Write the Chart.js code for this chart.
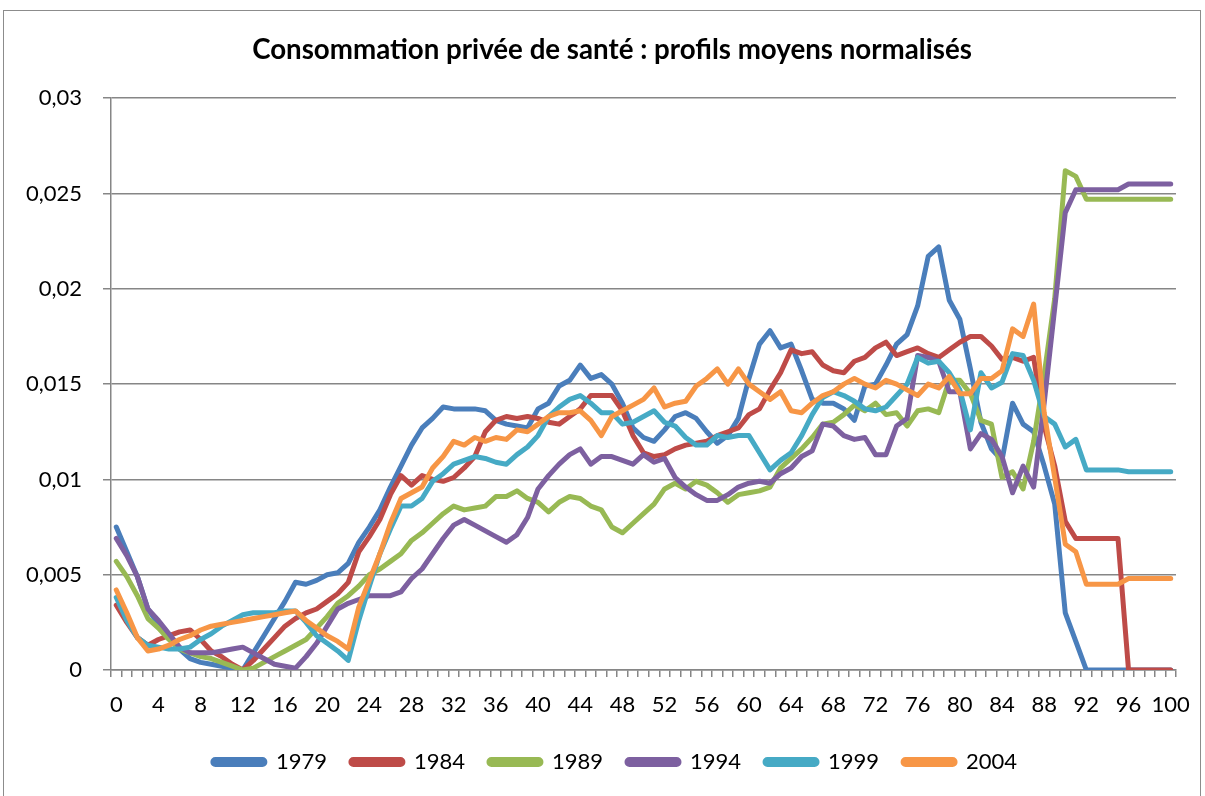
<!DOCTYPE html>
<html lang="fr">
<head>
<meta charset="utf-8">
<title>Consommation privée de santé</title>
<script src="https://cdn.jsdelivr.net/npm/chart.js@4.4.1/dist/chart.umd.min.js"></script>
<style>
  body { margin: 0; background: #fff; }
  #wrap { position: relative; width: 1205px; height: 796px; }
  #frame {
    position: absolute; left: 3px; top: 10px; width: 1196px; height: 800px;
    border: 1px solid #8c8c8c; pointer-events: none;
  }
</style>
</head>
<body>
<div id="wrap">
  <canvas id="myChart" width="1205" height="796"></canvas>
  <div id="frame"></div>
</div>
<script>
const ages = [
  0, 1, 2, 3, 4, 5, 6, 7, 8, 9, 10, 11, 12, 13, 14, 15, 16, 17, 18, 19,
  20, 21, 22, 23, 24, 25, 26, 27, 28, 29, 30, 31, 32, 33, 34, 35, 36, 37, 38, 39,
  40, 41, 42, 43, 44, 45, 46, 47, 48, 49, 50, 51, 52, 53, 54, 55, 56, 57, 58, 59,
  60, 61, 62, 63, 64, 65, 66, 67, 68, 69, 70, 71, 72, 73, 74, 75, 76, 77, 78, 79,
  80, 81, 82, 83, 84, 85, 86, 87, 88, 89, 90, 91, 92, 93, 94, 95, 96, 97, 98, 99, 100,
];

const years = ["1979", "1984", "1989", "1994", "1999", "2004"];

const values1979 = [
  0.0075, 0.0062, 0.0049, 0.0032, 0.0024, 0.0017, 0.0011, 0.0006, 0.0004, 0.0003,
  0.0002, 0.0001, 0.0000, 0.0009, 0.0018, 0.0027, 0.0036, 0.0046, 0.0045, 0.0047,
  0.0050, 0.0051, 0.0056, 0.0067, 0.0075, 0.0084, 0.0096, 0.0107, 0.0118, 0.0127,
  0.0132, 0.0138, 0.0137, 0.0137, 0.0137, 0.0136, 0.0131, 0.0129, 0.0128, 0.0127,
  0.0137, 0.0140, 0.0149, 0.0152, 0.0160, 0.0153, 0.0155, 0.0150, 0.0140, 0.0127,
  0.0122, 0.0120, 0.0126, 0.0133, 0.0135, 0.0132, 0.0125, 0.0119, 0.0123, 0.0132,
  0.0153, 0.0171, 0.0178, 0.0169, 0.0171, 0.0157, 0.0142, 0.0140, 0.0140, 0.0137,
  0.0131, 0.0149, 0.0150, 0.0160, 0.0171, 0.0176, 0.0191, 0.0217, 0.0222, 0.0194,
  0.0184, 0.0158, 0.0130, 0.0116, 0.0110, 0.0140, 0.0129, 0.0125, 0.0107, 0.0087,
  0.0030, 0.0015, 0, 0, 0, 0, 0, 0, 0, 0,
  0,
];

const values1984 = [
  0.0034, 0.0025, 0.0017, 0.0013, 0.0016, 0.0018, 0.0020, 0.0021, 0.0016, 0.0010,
  0.0007, 0.0003, 0.0000, 0.0005, 0.0011, 0.0017, 0.0023, 0.0027, 0.0030, 0.0032,
  0.0036, 0.0040, 0.0046, 0.0062, 0.0070, 0.0079, 0.0092, 0.0102, 0.0097, 0.0102,
  0.0100, 0.0099, 0.0101, 0.0106, 0.0112, 0.0125, 0.0131, 0.0133, 0.0132, 0.0133,
  0.0132, 0.0130, 0.0129, 0.0133, 0.0137, 0.0144, 0.0144, 0.0144, 0.0136, 0.0123,
  0.0114, 0.0112, 0.0113, 0.0116, 0.0118, 0.0119, 0.0120, 0.0123, 0.0125, 0.0127,
  0.0134, 0.0137, 0.0147, 0.0156, 0.0168, 0.0166, 0.0167, 0.0160, 0.0157, 0.0156,
  0.0162, 0.0164, 0.0169, 0.0172, 0.0165, 0.0167, 0.0169, 0.0166, 0.0164, 0.0168,
  0.0172, 0.0175, 0.0175, 0.0170, 0.0163, 0.0164, 0.0162, 0.0164, 0.0128, 0.0107,
  0.0078, 0.0069, 0.0069, 0.0069, 0.0069, 0.0069, 0, 0, 0, 0,
  0,
];

const values1989 = [
  0.0057, 0.0049, 0.0039, 0.0027, 0.0022, 0.0016, 0.0011, 0.0009, 0.0007, 0.0006,
  0.0004, 0.0002, 0.0000, 0.0001, 0.0004, 0.0007, 0.0010, 0.0013, 0.0016, 0.0022,
  0.0028, 0.0035, 0.0039, 0.0044, 0.0050, 0.0053, 0.0057, 0.0061, 0.0068, 0.0072,
  0.0077, 0.0082, 0.0086, 0.0084, 0.0085, 0.0086, 0.0091, 0.0091, 0.0094, 0.0090,
  0.0088, 0.0083, 0.0088, 0.0091, 0.0090, 0.0086, 0.0084, 0.0075, 0.0072, 0.0077,
  0.0082, 0.0087, 0.0095, 0.0098, 0.0095, 0.0099, 0.0097, 0.0093, 0.0088, 0.0092,
  0.0093, 0.0094, 0.0096, 0.0106, 0.0111, 0.0116, 0.0122, 0.0129, 0.0130, 0.0134,
  0.0139, 0.0136, 0.0140, 0.0134, 0.0135, 0.0128, 0.0136, 0.0137, 0.0135, 0.0152,
  0.0152, 0.0145, 0.0131, 0.0129, 0.0101, 0.0104, 0.0095, 0.0120, 0.0155, 0.0195,
  0.0262, 0.0259, 0.0247, 0.0247, 0.0247, 0.0247, 0.0247, 0.0247, 0.0247, 0.0247,
  0.0247,
];

const values1994 = [
  0.0069, 0.0060, 0.0049, 0.0032, 0.0026, 0.0019, 0.0012, 0.0009, 0.0009, 0.0009,
  0.0010, 0.0011, 0.0012, 0.0009, 0.0006, 0.0003, 0.0002, 0.0001, 0.0007, 0.0014,
  0.0023, 0.0032, 0.0035, 0.0037, 0.0039, 0.0039, 0.0039, 0.0041, 0.0048, 0.0053,
  0.0061, 0.0069, 0.0076, 0.0079, 0.0076, 0.0073, 0.0070, 0.0067, 0.0071, 0.0080,
  0.0095, 0.0102, 0.0108, 0.0113, 0.0116, 0.0108, 0.0112, 0.0112, 0.0110, 0.0108,
  0.0113, 0.0109, 0.0111, 0.0101, 0.0096, 0.0092, 0.0089, 0.0089, 0.0092, 0.0096,
  0.0098, 0.0099, 0.0098, 0.0103, 0.0106, 0.0112, 0.0115, 0.0129, 0.0128, 0.0123,
  0.0121, 0.0122, 0.0113, 0.0113, 0.0128, 0.0132, 0.0165, 0.0164, 0.0162, 0.0146,
  0.0146, 0.0116, 0.0124, 0.0121, 0.0112, 0.0093, 0.0107, 0.0096, 0.0140, 0.0190,
  0.0240, 0.0252, 0.0252, 0.0252, 0.0252, 0.0252, 0.0255, 0.0255, 0.0255, 0.0255,
  0.0255,
];

const values1999 = [
  0.0038, 0.0026, 0.0017, 0.0013, 0.0012, 0.0011, 0.0011, 0.0012, 0.0016, 0.0019,
  0.0023, 0.0026, 0.0029, 0.0030, 0.0030, 0.0030, 0.0031, 0.0031, 0.0025, 0.0018,
  0.0014, 0.0010, 0.0005, 0.0026, 0.0044, 0.0061, 0.0074, 0.0086, 0.0086, 0.0090,
  0.0099, 0.0103, 0.0108, 0.0110, 0.0112, 0.0111, 0.0109, 0.0108, 0.0113, 0.0117,
  0.0123, 0.0133, 0.0138, 0.0142, 0.0144, 0.0140, 0.0135, 0.0135, 0.0129, 0.0130,
  0.0133, 0.0136, 0.0130, 0.0128, 0.0122, 0.0118, 0.0118, 0.0123, 0.0122, 0.0123,
  0.0123, 0.0114, 0.0105, 0.0110, 0.0114, 0.0123, 0.0134, 0.0143, 0.0146, 0.0144,
  0.0141, 0.0137, 0.0136, 0.0138, 0.0144, 0.0150, 0.0164, 0.0161, 0.0162, 0.0156,
  0.0147, 0.0126, 0.0156, 0.0148, 0.0151, 0.0166, 0.0165, 0.0152, 0.0133, 0.0129,
  0.0117, 0.0121, 0.0105, 0.0105, 0.0105, 0.0105, 0.0104, 0.0104, 0.0104, 0.0104,
  0.0104,
];

const values2004 = [
  0.0042, 0.0030, 0.0017, 0.0010, 0.0011, 0.0013, 0.0016, 0.0018, 0.0021, 0.0023,
  0.0024, 0.0025, 0.0026, 0.0027, 0.0028, 0.0029, 0.0030, 0.0031, 0.0026, 0.0022,
  0.0018, 0.0015, 0.0011, 0.0033, 0.0047, 0.0061, 0.0077, 0.0090, 0.0093, 0.0096,
  0.0106, 0.0112, 0.0120, 0.0118, 0.0122, 0.0120, 0.0122, 0.0121, 0.0126, 0.0125,
  0.0129, 0.0133, 0.0135, 0.0135, 0.0136, 0.0131, 0.0123, 0.0133, 0.0136, 0.0139,
  0.0142, 0.0148, 0.0138, 0.0140, 0.0141, 0.0149, 0.0153, 0.0158, 0.0150, 0.0158,
  0.0150, 0.0146, 0.0142, 0.0146, 0.0136, 0.0135, 0.0140, 0.0144, 0.0146, 0.0150,
  0.0153, 0.0150, 0.0148, 0.0152, 0.0150, 0.0147, 0.0144, 0.0150, 0.0148, 0.0154,
  0.0145, 0.0145, 0.0153, 0.0153, 0.0157, 0.0179, 0.0175, 0.0192, 0.0135, 0.0101,
  0.0066, 0.0062, 0.0045, 0.0045, 0.0045, 0.0045, 0.0048, 0.0048, 0.0048, 0.0048,
  0.0048,
];

const seriesValues = [values1979, values1984, values1989, values1994, values1999, values2004];
const colors = ["#4A7EBB", "#BE4B48", "#98B954", "#7D60A0", "#46AAC5", "#F79646"];

const fontName = "Lato, 'Open Sans', sans-serif";
const gridColor = "#868686";

// later series drawn on top, like the spreadsheet
const datasets = years.map((year, i) => ({
  label: year,
  data: seriesValues[i],
  borderColor: colors[i],
  backgroundColor: colors[i],
  borderWidth: 5,
  borderJoinStyle: "round",
  borderCapStyle: "round",
  pointRadius: 0,
  tension: 0,
  order: years.length - i,
}));

// title and legend are centred a bit to the right of the canvas centre
const boxShift = {
  id: "boxShift",
  afterLayout(chart) {
    chart.legend.left = 54;
    chart.titleBlock.left = 48;
  },
};

const ctx = document.getElementById("myChart").getContext("2d");

let healthChart = new Chart(ctx, {
  type: "line",
  data: {
    labels: ages,
    datasets: datasets,
  },
  plugins: [boxShift],
  options: {
    responsive: false,
    animation: false,
    layout: {
      padding: { left: 12, right: 29, top: 0, bottom: 13 },
    },
    plugins: {
      title: {
        display: true,
        text: "Consommation privée de santé : profils moyens normalisés",
        color: "#000",
        font: { family: fontName, size: 27.7, weight: "bold" },
        padding: { top: 33, bottom: 32 },
      },
      legend: {
        position: "bottom",
        labels: {
          color: "#000",
          font: { family: fontName, size: 22 },
          boxWidth: 52,
          boxHeight: 5,
          padding: 24,
          useBorderRadius: true,
          borderRadius: 2.5,
          sort: (a, b) => a.datasetIndex - b.datasetIndex,
        },
      },
      tooltip: { enabled: false },
    },
    scales: {
      x: {
        offset: true,
        grid: {
          offset: true,
          drawOnChartArea: false,
          drawTicks: true,
          tickLength: 7,
          color: gridColor,
          lineWidth: 1.5,
        },
        border: { color: gridColor, width: 1.5 },
        ticks: {
          autoSkip: false,
          maxRotation: 0,
          minRotation: 0,
          padding: 15,
          color: "#000",
          font: { family: fontName, size: 22 },
          callback: function (value, index) {
            return index % 4 === 0 ? String(ages[index]) : "";
          },
        },
        afterFit: (scale) => {
          scale.height = 57;
        },
      },
      y: {
        min: 0,
        max: 0.03,
        grid: {
          color: gridColor,
          lineWidth: 1.5,
          tickLength: 8,
        },
        border: { color: gridColor, width: 1.5 },
        ticks: {
          stepSize: 0.005,
          padding: 21,
          color: "#000",
          font: { family: fontName, size: 22 },
          callback: function (value) {
            if (value === 0) return "0";
            return String(+value.toFixed(3)).replace(".", ",");
          },
        },
        afterFit: (scale) => {
          scale.width = 99;
        },
      },
    },
  },
});
</script>
</body>
</html>
